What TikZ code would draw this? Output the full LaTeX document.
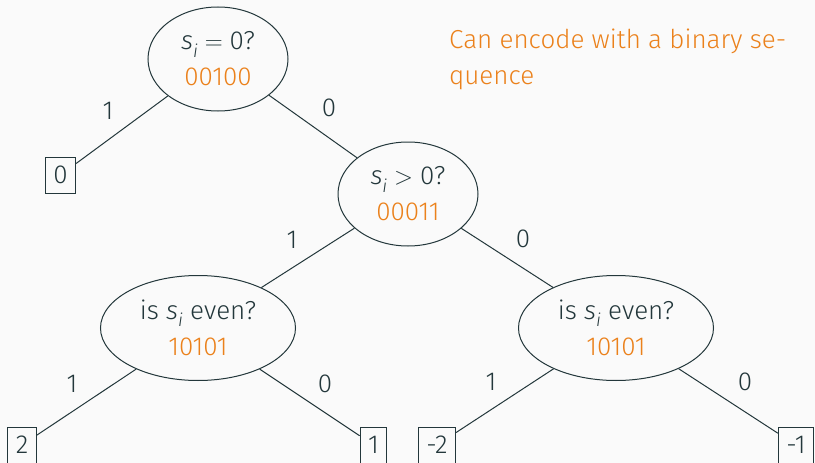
\documentclass[tikz,border=0pt]{standalone}
\usepackage{fontspec}
\setmainfont{Fira Sans Light}
\usetikzlibrary{shapes.geometric}
\definecolor{mdark}{HTML}{23373B}
\definecolor{morange}{HTML}{EB811B}
\definecolor{mbg}{HTML}{FAFAFA}
\newcommand{\si}{\textit{s}\raisebox{-0.28em}{\fontsize{18}{18}\selectfont\itshape i}}
\begin{document}
\begin{tikzpicture}[x=1pt,y=-1pt,
  every node/.style={text=mdark, font=\fontsize{26}{36}\selectfont},
  qnode/.style={ellipse, draw=mdark, line width=1pt, inner sep=0pt, align=center},
  leaf/.style={rectangle, draw=mdark, line width=1pt, inner xsep=8pt, inner ysep=0pt, minimum height=36pt},
  lbl/.style={inner sep=0pt},
  edge/.style={draw=mdark, line width=1pt},
  code/.style={text=morange}]
\fill[mbg] (0,0) rectangle (815,463);
\useasboundingbox (0,0) rectangle (815,463);

\node[qnode, minimum width=140pt, minimum height=104pt] (root) at (218,59)
  {\si${}={}$0?\\\textcolor{morange}{00100}};
\node[qnode, minimum width=140pt, minimum height=104pt] (pos) at (408,194)
  {\si${}>{}$0?\\\textcolor{morange}{00011}};
\node[qnode, minimum width=195pt, minimum height=105pt] (evl) at (198,328)
  {is \si\ even?\\\textcolor{morange}{10101}};
\node[qnode, minimum width=195pt, minimum height=105pt] (evr) at (616,328)
  {is \si\ even?\\\textcolor{morange}{10101}};

\node[leaf] (z) at (60.5,175) {0};
\node[leaf] (two) at (22,445) {2};
\node[leaf] (one) at (373.5,445) {1};
\node[leaf] (mtwo) at (437,445) {-2};
\node[leaf] (mone) at (796,445) {-1};

\draw[edge] (root) -- (z);
\draw[edge] (root) -- (pos);
\draw[edge] (pos) -- (evl);
\draw[edge] (pos) -- (evr);
\draw[edge] (evl) -- (two);
\draw[edge] (evl) -- (one);
\draw[edge] (evr) -- (mtwo);
\draw[edge] (evr) -- (mone);

\node[lbl] (l1) at (108,111) {1};
\node[lbl] (l2) at (329,108) {0};
\node[lbl] (l3) at (292,240) {1};
\node[lbl] (l4) at (523,239) {0};
\node[lbl] (l5) at (72,384) {1};
\node[lbl] (l6) at (325,384) {0};
\node[lbl] (l7) at (491,382) {1};
\node[lbl] (l8) at (745,382) {0};

\node[code, anchor=base west, align=left, inner sep=0pt] (note) at (449,84)
  {Can encode with a binary se-\\quence};
\end{tikzpicture}
\end{document}
